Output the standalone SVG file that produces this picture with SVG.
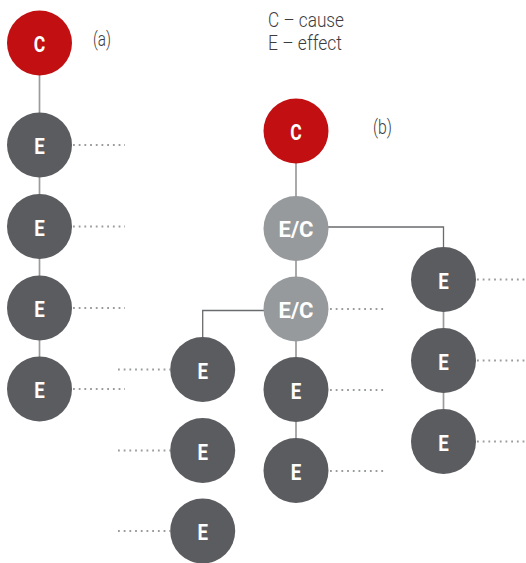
<svg xmlns="http://www.w3.org/2000/svg" width="526" height="563" viewBox="0 0 526 563">
  <style>
    .cause { fill: #C10F12; }
    .effect { fill: #5B5C60; }
    .mixed { fill: #979A9C; }
    .lbl { font-family: Roboto, "Liberation Sans", sans-serif; font-weight: 700; font-size: 22px; fill: #ffffff; text-anchor: middle; }
    .note { font-family: Roboto, "Liberation Sans", sans-serif; font-weight: 300; font-size: 20.5px; fill: #3c3c3e; }
    .link { stroke: #9A9B9D; stroke-width: 1.7; fill: none; }
    .elbow { stroke: #6A6B6E; stroke-width: 1.3; fill: none; }
    .trail { stroke: #9A9B9D; stroke-width: 1.8; stroke-dasharray: 1.8 3.9; fill: none; }
  </style>

  <!-- legend and panel labels -->
  <text class="note" x="268" y="26.5" textLength="76" lengthAdjust="spacingAndGlyphs">C – cause</text>
  <text class="note" x="268" y="50" textLength="74" lengthAdjust="spacingAndGlyphs">E – effect</text>
  <text class="note" x="93" y="46" textLength="18" lengthAdjust="spacingAndGlyphs">(a)</text>
  <text class="note" x="373" y="134" textLength="19" lengthAdjust="spacingAndGlyphs">(b)</text>

  <!-- connectors -->
  <g id="connectors">
    <!-- chain (a) -->
    <line class="link" x1="39.5" y1="43" x2="39.5" y2="389"/>
    <!-- chain (b), main stem -->
    <line class="link" x1="296" y1="131" x2="296" y2="470.5"/>
    <!-- branch to the right -->
    <path class="elbow" d="M328 227 H443.5 V248"/>
    <line class="link" x1="443.5" y1="279.5" x2="443.5" y2="441.5"/>
    <!-- branch to the left -->
    <path class="elbow" d="M264 310.5 H202.7 V338"/>

    <!-- open-ended trails -->
    <path class="trail" d="M73 145 H125 M73 226.5 H125 M73 308 H125 M73 389 H125"/>
    <path class="trail" d="M330 309 H385 M330 390 H385 M330 471 H385"/>
    <path class="trail" d="M118 369.5 H170 M118 450.5 H170 M118 531 H170"/>
    <path class="trail" d="M477 279.5 H526 M477 360.5 H526 M477 441.5 H526"/>
  </g>

  <!-- chain (a) nodes -->
  <g id="a-c"><circle class="cause" cx="39.5" cy="43" r="32.5"/><text class="lbl" x="39.5" y="51.5" textLength="11.5" lengthAdjust="spacingAndGlyphs">C</text></g>
  <g id="a-e1"><circle class="effect" cx="39.5" cy="145" r="32.5"/><text class="lbl" x="39.5" y="154" textLength="10.5" lengthAdjust="spacingAndGlyphs">E</text></g>
  <g id="a-e2"><circle class="effect" cx="39.5" cy="226.5" r="32.5"/><text class="lbl" x="39.5" y="235.5" textLength="10.5" lengthAdjust="spacingAndGlyphs">E</text></g>
  <g id="a-e3"><circle class="effect" cx="39.5" cy="308" r="32.5"/><text class="lbl" x="39.5" y="317" textLength="10.5" lengthAdjust="spacingAndGlyphs">E</text></g>
  <g id="a-e4"><circle class="effect" cx="39.5" cy="389" r="32.5"/><text class="lbl" x="39.5" y="398" textLength="10.5" lengthAdjust="spacingAndGlyphs">E</text></g>

  <!-- chain (b) nodes -->
  <g id="b-c"><circle class="cause" cx="296" cy="131" r="32.5"/><text class="lbl" x="296" y="139.5" textLength="11.5" lengthAdjust="spacingAndGlyphs">C</text></g>
  <g id="b-ec1"><circle class="mixed" cx="296" cy="228.5" r="32.5"/><text class="lbl" x="296" y="237" textLength="35" lengthAdjust="spacingAndGlyphs">E/C</text></g>
  <g id="b-ec2"><circle class="mixed" cx="296" cy="309" r="32.5"/><text class="lbl" x="296" y="317.5" textLength="35" lengthAdjust="spacingAndGlyphs">E/C</text></g>
  <g id="b-m1"><circle class="effect" cx="296" cy="389.5" r="32.5"/><text class="lbl" x="296" y="398.5" textLength="10.5" lengthAdjust="spacingAndGlyphs">E</text></g>
  <g id="b-m2"><circle class="effect" cx="296" cy="470.5" r="32.5"/><text class="lbl" x="296" y="479.5" textLength="10.5" lengthAdjust="spacingAndGlyphs">E</text></g>

  <g id="b-l1"><circle class="effect" cx="202.7" cy="369.5" r="32.5"/><text class="lbl" x="202.7" y="378.5" textLength="10.5" lengthAdjust="spacingAndGlyphs">E</text></g>
  <g id="b-l2"><circle class="effect" cx="202.7" cy="450.5" r="32.5"/><text class="lbl" x="202.7" y="459.5" textLength="10.5" lengthAdjust="spacingAndGlyphs">E</text></g>
  <g id="b-l3"><circle class="effect" cx="202.7" cy="531" r="32.5"/><text class="lbl" x="202.7" y="540" textLength="10.5" lengthAdjust="spacingAndGlyphs">E</text></g>

  <g id="b-r1"><circle class="effect" cx="443.5" cy="279.5" r="32.5"/><text class="lbl" x="443.5" y="288.5" textLength="10.5" lengthAdjust="spacingAndGlyphs">E</text></g>
  <g id="b-r2"><circle class="effect" cx="443.5" cy="360.5" r="32.5"/><text class="lbl" x="443.5" y="369.5" textLength="10.5" lengthAdjust="spacingAndGlyphs">E</text></g>
  <g id="b-r3"><circle class="effect" cx="443.5" cy="441.5" r="32.5"/><text class="lbl" x="443.5" y="450.5" textLength="10.5" lengthAdjust="spacingAndGlyphs">E</text></g>
</svg>
